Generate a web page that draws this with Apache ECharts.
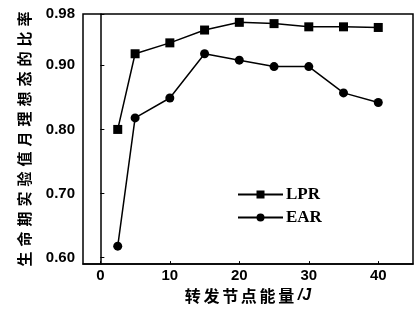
<!DOCTYPE html>
<html>
<head>
<meta charset="utf-8">
<script src="https://cdn.jsdelivr.net/npm/echarts@6/dist/echarts.min.js"></script>
<style>
  html, body { margin: 0; padding: 0; background: #fff; }
  #chart { width: 415px; height: 309px; }
</style>
</head>
<body>
<div id="chart"></div>
<script>
const energy = [2.5, 5, 10, 15, 20, 25, 30, 35, 40]
const lpr = [0.80, 0.918, 0.935, 0.955, 0.967, 0.965, 0.960, 0.960, 0.959]
const ear = [0.618, 0.818, 0.849, 0.918, 0.908, 0.898, 0.898, 0.857, 0.842]
const xTicks = [0, 10, 20, 30, 40]
const yTicks = [0.6, 0.7, 0.8, 0.9, 0.98]

const yName = '生命期实验值月理想态的比率'.split('').join('\u2004')
const xName = '转发节点能量'.split('').join('\u2006') + ' {it|/J}'

const chart = echarts.init(document.getElementById('chart'))

const lineSeries = (name, data, symbol, size) => ({
  name,
  type: 'line',
  data: energy.map((x, i) => [x, data[i]]),
  symbol,
  symbolSize: size,
  lineStyle: { color: '#000', width: 1.5 },
  itemStyle: { color: '#000' },
  animation: false,
})

chart.setOption({
  backgroundColor: '#fff',
  grid: {
    left: 83, right: 2, top: 14, bottom: 38,
    show: true, borderColor: '#000', borderWidth: 1.5,
  },
  legend: {
    left: 232, top: 181,
    orient: 'vertical',
    itemWidth: 45, itemHeight: 10, itemGap: 6,
    textStyle: { fontFamily: 'Liberation Serif', fontWeight: 'bold', fontSize: 17, color: '#000', padding: [0, 0, 0, -2] },
    data: ['LPR', 'EAR'],
  },
  xAxis: {
    type: 'value',
    min: -2.5, max: 45,
    name: xName,
    nameLocation: 'middle',
    nameGap: 19,
    nameTextStyle: {
      fontFamily: 'Noto Sans CJK SC', fontWeight: 'bold', fontSize: 16, color: '#000',
      rich: { it: { fontFamily: 'Liberation Sans', fontStyle: 'italic', fontWeight: 'bold', fontSize: 16 } },
    },
    axisLine: { show: true, lineStyle: { color: '#000', width: 1.5 } },
    axisTick: { inside: true, length: 3, customValues: xTicks, lineStyle: { color: '#000' } },
    axisLabel: {
      customValues: xTicks, margin: 4,
      fontFamily: 'Liberation Sans', fontWeight: 'bold', fontSize: 15, color: '#000',
    },
    splitLine: { show: false },
  },
  yAxis: {
    type: 'value',
    min: 0.59, max: 0.98,
    name: yName,
    nameLocation: 'middle',
    nameGap: 51,
    nameTextStyle: { fontFamily: 'Noto Sans CJK SC', fontWeight: 'bold', fontSize: 15, color: '#000' },
    axisLine: { show: true, lineStyle: { color: '#000', width: 1.5 } },
    axisTick: { inside: true, length: 4, customValues: yTicks, lineStyle: { color: '#000' } },
    axisLabel: {
      customValues: yTicks, margin: 8,
      formatter: (v) => v.toFixed(2),
      fontFamily: 'Liberation Sans', fontWeight: 'bold', fontSize: 15, color: '#000',
    },
    splitLine: { show: false },
  },
  series: [
    lineSeries('LPR', lpr, 'rect', 9),
    lineSeries('EAR', ear, 'circle', 9),
  ],
})
</script>
</body>
</html>
